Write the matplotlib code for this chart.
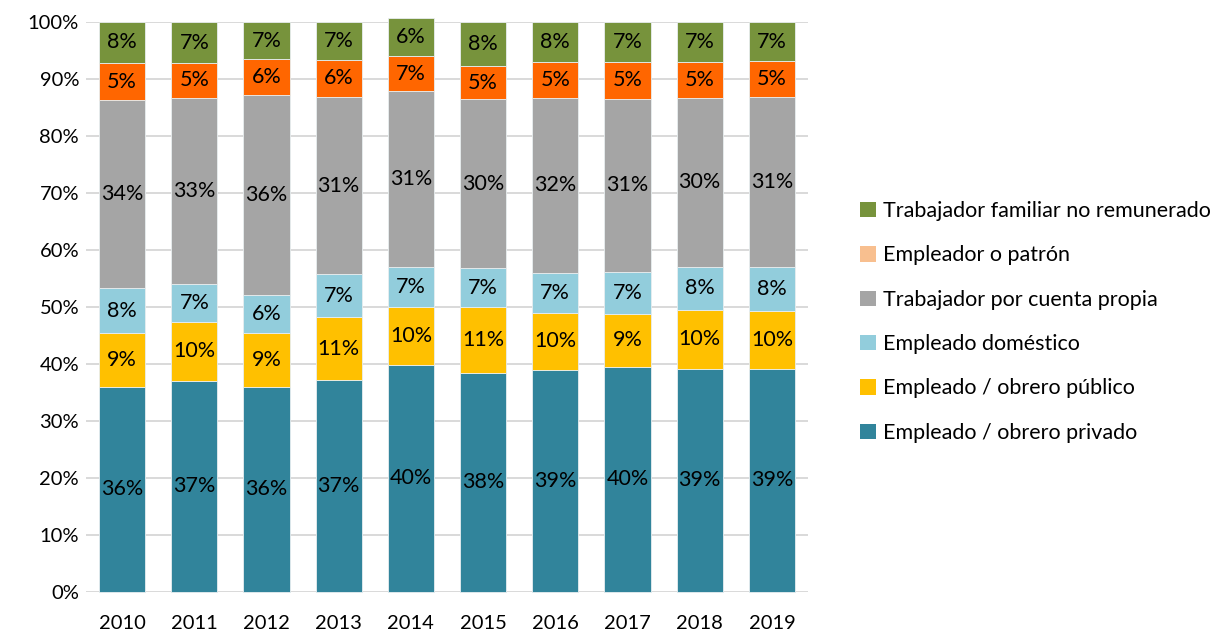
import matplotlib.pyplot as plt
from matplotlib.patches import Patch
from matplotlib.ticker import PercentFormatter

plt.rcParams['font.family'] = ['Lato', 'DejaVu Sans']

years = ['2010', '2011', '2012', '2013', '2014', '2015', '2016', '2017', '2018', '2019']

# segment sizes (% of bar)
privado = [36.0, 37.0, 36.0, 37.1, 39.8, 38.4, 38.9, 39.5, 39.1, 39.1]
publico = [9.4, 10.3, 9.3, 11.1, 10.2, 11.5, 10.0, 9.2, 10.3, 10.2]
domestico = [7.8, 6.7, 6.7, 7.5, 7.0, 6.9, 7.0, 7.4, 7.6, 7.7]
cuenta_propia = [33.0, 32.7, 35.1, 31.1, 30.8, 29.6, 30.8, 30.4, 29.7, 29.8]
empleador = [6.6, 6.1, 6.3, 6.5, 6.2, 5.8, 6.3, 6.5, 6.3, 6.3]
familiar = [7.2, 7.1, 6.5, 6.6, 6.7, 7.7, 6.9, 6.9, 6.9, 6.8]

# printed data labels
lab_privado = ['36%', '37%', '36%', '37%', '40%', '38%', '39%', '40%', '39%', '39%']
lab_publico = ['9%', '10%', '9%', '11%', '10%', '11%', '10%', '9%', '10%', '10%']
lab_domestico = ['8%', '7%', '6%', '7%', '7%', '7%', '7%', '7%', '8%', '8%']
lab_cuenta_propia = ['34%', '33%', '36%', '31%', '31%', '30%', '32%', '31%', '30%', '31%']
lab_empleador = ['5%', '5%', '6%', '6%', '7%', '5%', '5%', '5%', '5%', '5%']
lab_familiar = ['8%', '7%', '7%', '7%', '6%', '8%', '8%', '7%', '7%', '7%']

names = ['Empleado / obrero privado', 'Empleado / obrero público', 'Empleado doméstico',
         'Trabajador por cuenta propia', 'Empleador o patrón', 'Trabajador familiar no remunerado']
series = [privado, publico, domestico, cuenta_propia, empleador, familiar]
labels = [lab_privado, lab_publico, lab_domestico, lab_cuenta_propia, lab_empleador, lab_familiar]
bar_colors = ['#31849B', '#FFC000', '#92CDDC', '#A5A5A5', '#FF6600', '#77933C']
legend_colors = ['#31849B', '#FFC000', '#92CDDC', '#A5A5A5', '#F8BF8F', '#77933C']

fig = plt.figure(figsize=(12.22, 6.35), dpi=100)
ax = fig.add_axes([0.0704, 0.0682, 0.5908, 0.8976])

x = list(range(len(years)))
bottom = [0.0] * len(years)
for vals, labs, col in zip(series, labels, bar_colors):
    ax.bar(x, vals, bottom=bottom, width=0.64, color=col,
           edgecolor='#E8EEF0', linewidth=0.6, zorder=2, clip_on=False)
    for i, (v, lab) in enumerate(zip(vals, labs)):
        ax.text(i, bottom[i] + v / 2, lab, ha='center', va='center',
                fontsize=15.5, color='black', zorder=3)
    bottom = [b + v for b, v in zip(bottom, vals)]

ax.set_xlim(-0.5, len(years) - 0.5)
ax.set_ylim(0, 100)
ax.set_yticks(range(0, 101, 10))
ax.yaxis.set_major_formatter(PercentFormatter(decimals=0))
ax.set_xticks(x)
ax.set_xticklabels(years)
ax.tick_params(axis='both', length=0, labelsize=14.5, colors='black')
ax.tick_params(axis='x', pad=17)
ax.tick_params(axis='y', pad=5)
ax.grid(axis='y', color='#D9D9D9', linewidth=1.4, zorder=0)
ax.set_axisbelow(True)
for s in ax.spines.values():
    s.set_visible(False)

handles = [Patch(facecolor=c, edgecolor='none') for c in legend_colors]
fig.legend(handles[::-1], names[::-1], loc='center left', bbox_to_anchor=(0.688, 0.493),
           frameon=False, fontsize=15.5, handlelength=0.72, handleheight=0.72,
           handletextpad=0.35, labelspacing=1.13)

fig.savefig('out.png', dpi=100)
